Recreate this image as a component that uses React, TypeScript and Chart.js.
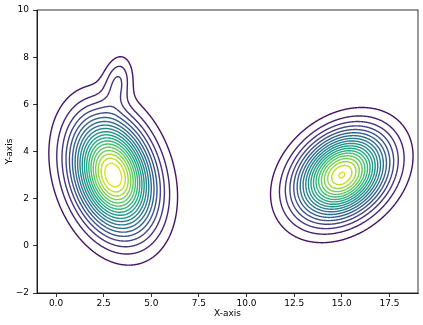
import React, { useEffect, useRef } from "react";
import { Chart, registerables } from "chart.js";

Chart.register(...registerables);

// Axis ranges and ticks
const xLimits = [-1, 19];
const yLimits = [-2, 10];
const xTicks = [0, 2.5, 5, 7.5, 10, 12.5, 15, 17.5];
const yTicks = [-2, 0, 2, 4, 6, 8, 10];

// Density components (centre, spread, tilt, height)
const peakCenterX = [3.0, 15.0, 3.25];
const peakCenterY = [3.0, 3.0, 7.0];
const peakSigmaX = [1.38, 1.54, 0.5];
const peakSigmaY = [1.56, 1.18, 0.7];
const peakRho = [-0.24, 0.28, 0.2];
const peakHeight = [1.0, 0.955, 0.135];

// Contour levels
const contourLevels = [
  0.05, 0.1, 0.15, 0.2, 0.25, 0.3, 0.35, 0.4, 0.45, 0.5,
  0.55, 0.6, 0.65, 0.7, 0.75, 0.8, 0.85, 0.9, 0.95,
];

// viridis at k/20, k = 0..20
const viridis = [
  "#440154", "#471365", "#482475", "#463480", "#414487", "#3b528b",
  "#355f8d", "#2f6c8e", "#2a788e", "#25848e", "#21918c", "#1e9c89",
  "#22a884", "#2fb47c", "#44bf70", "#5ec962", "#7ad151", "#9bd93c",
  "#bddf26", "#dfe318", "#fde725",
];

function fieldAt(x: number, y: number): number {
  let s = 0;
  for (let k = 0; k < peakHeight.length; k++) {
    const dx = (x - peakCenterX[k]) / peakSigmaX[k];
    const dy = (y - peakCenterY[k]) / peakSigmaY[k];
    const r = peakRho[k];
    const q = (dx * dx - 2 * r * dx * dy + dy * dy) / (1 - r * r);
    s += peakHeight[k] * Math.exp(-0.5 * q);
  }
  return s;
}

type Pt = { x: number; y: number };

function contourLines(level: number, nx: number, ny: number): Pt[][] {
  const x0 = xLimits[0], x1 = xLimits[1], y0 = yLimits[0], y1 = yLimits[1];
  const hx = (x1 - x0) / nx, hy = (y1 - y0) / ny;
  const vals: number[] = new Array((nx + 1) * (ny + 1));
  for (let j = 0; j <= ny; j++)
    for (let i = 0; i <= nx; i++)
      vals[j * (nx + 1) + i] = fieldAt(x0 + i * hx, y0 + j * hy);
  const V = (i: number, j: number) => vals[j * (nx + 1) + i];
  const pts = new Map<number, Pt>();
  const adj = new Map<number, number[]>();
  const hId = (i: number, j: number) => (j * nx + i) * 2;
  const vId = (i: number, j: number) => (j * (nx + 1) + i) * 2 + 1;
  const edgePoint = (id: number, i: number, j: number, horiz: boolean) => {
    if (pts.has(id)) return;
    let a: number, b: number, xa: number, ya: number, xb: number, yb: number;
    if (horiz) {
      a = V(i, j); b = V(i + 1, j);
      xa = x0 + i * hx; ya = y0 + j * hy; xb = xa + hx; yb = ya;
    } else {
      a = V(i, j); b = V(i, j + 1);
      xa = x0 + i * hx; ya = y0 + j * hy; xb = xa; yb = ya + hy;
    }
    const t = (level - a) / (b - a);
    pts.set(id, { x: xa + t * (xb - xa), y: ya + t * (yb - ya) });
  };
  const link = (a: number, b: number) => {
    if (!adj.has(a)) adj.set(a, []);
    if (!adj.has(b)) adj.set(b, []);
    adj.get(a)!.push(b);
    adj.get(b)!.push(a);
  };
  for (let j = 0; j < ny; j++) {
    for (let i = 0; i < nx; i++) {
      const a00 = V(i, j) > level, a10 = V(i + 1, j) > level;
      const a11 = V(i + 1, j + 1) > level, a01 = V(i, j + 1) > level;
      const bottom = hId(i, j), top = hId(i, j + 1), left = vId(i, j), right = vId(i + 1, j);
      const e: number[] = [];
      if (a00 !== a10) { edgePoint(bottom, i, j, true); e.push(bottom); }
      if (a10 !== a11) { edgePoint(right, i + 1, j, false); e.push(right); }
      if (a01 !== a11) { edgePoint(top, i, j + 1, true); e.push(top); }
      if (a00 !== a01) { edgePoint(left, i, j, false); e.push(left); }
      if (e.length === 2) link(e[0], e[1]);
      else if (e.length === 4) {
        const c = (V(i, j) + V(i + 1, j) + V(i + 1, j + 1) + V(i, j + 1)) / 4 > level;
        if (a00 === c) { link(bottom, right); link(top, left); }
        else { link(bottom, left); link(top, right); }
      }
    }
  }
  const used = new Set<number>();
  const lines: Pt[][] = [];
  const walk = (start: number) => {
    const line: Pt[] = [pts.get(start)!];
    used.add(start);
    let prev = -1, cur = start;
    for (;;) {
      const nb = adj.get(cur)!.filter((n) => n !== prev && !used.has(n));
      if (nb.length === 0) {
        if (adj.get(cur)!.includes(start) && line.length > 2) line.push(pts.get(start)!);
        break;
      }
      prev = cur; cur = nb[0];
      used.add(cur);
      line.push(pts.get(cur)!);
    }
    lines.push(line);
  };
  for (const [id, n] of adj) if (n.length === 1 && !used.has(id)) walk(id);
  for (const id of adj.keys()) if (!used.has(id)) walk(id);
  return lines;
}

const spinePlugin = {
  id: "spines",
  afterDatasetsDraw(chart: any) {
    const { ctx, chartArea: a } = chart;
    ctx.save();
    ctx.strokeStyle = "#000";
    ctx.lineWidth = 0.8;
    ctx.strokeRect(a.left, a.top, a.right - a.left, a.bottom - a.top);
    ctx.restore();
  },
};

export default function App() {
  const ref = useRef<HTMLCanvasElement>(null);
  useEffect(() => {
    if (!ref.current) return;
    const datasets: any[] = [];
    contourLevels.forEach((lv, k) => {
      const color = viridis[k + 1];
      for (const line of contourLines(lv, 400, 240)) {
        datasets.push({
          data: line,
          showLine: true,
          pointRadius: 0,
          pointHoverRadius: 0,
          borderColor: color,
          borderWidth: 1.4,
          borderJoinStyle: "round",
          fill: false,
          // tiny tension avoids Chart.js's column-collapsing fast path
          tension: 0.0001,
          cubicInterpolationMode: "default",
        });
      }
    });
    const font = { family: "DejaVu Sans", size: 9 };
    const chart = new Chart(ref.current, {
      type: "scatter",
      data: { datasets },
      plugins: [spinePlugin],
      options: {
        animation: false,
        responsive: false,
        devicePixelRatio: 1,
        events: [],
        layout: { padding: { top: 10, right: 5, left: 0, bottom: 0 } },
        plugins: { legend: { display: false }, tooltip: { enabled: false } },
        scales: {
          x: {
            type: "linear",
            min: xLimits[0],
            max: xLimits[1],
            afterBuildTicks: (s: any) => { s.ticks = xTicks.map((v) => ({ value: v })); },
            afterFit: (s: any) => { s.height = 32; },
            ticks: {
              callback: (v: any) => Number(v).toFixed(1),
              font, color: "#000", maxRotation: 0, autoSkip: false, padding: 1,
            },
            grid: { display: true, drawOnChartArea: false, tickLength: 4, color: "#000", lineWidth: 0.8 },
            border: { display: true, color: "#000", width: 0.8 },
            title: { display: true, text: "X-axis", font, color: "#000", padding: { top: 0, bottom: 6 } },
          },
          y: {
            type: "linear",
            min: yLimits[0],
            max: yLimits[1],
            afterBuildTicks: (s: any) => { s.ticks = yTicks.map((v) => ({ value: v })); },
            afterFit: (s: any) => { s.width = 37; },
            ticks: {
              callback: (v: any) => (Number(v) < 0 ? "\u2212" + Math.abs(Number(v)) : String(v)),
              font, color: "#000", autoSkip: false, padding: 4,
            },
            grid: { display: true, drawOnChartArea: false, tickLength: 4, color: "#000", lineWidth: 0.8 },
            border: { display: true, color: "#000", width: 0.8 },
            title: { display: true, text: "Y-axis", font, color: "#000", padding: { top: 4, bottom: 0 } },
          },
        },
      } as any,
    });
    return () => chart.destroy();
  }, []);
  return (
    <div style={{ position: "absolute", left: 0, top: 0, width: 423, height: 325, background: "#fff" }}>
      <canvas ref={ref} width={423} height={325} style={{ display: "block", width: 423, height: 325 }} />
    </div>
  );
}
